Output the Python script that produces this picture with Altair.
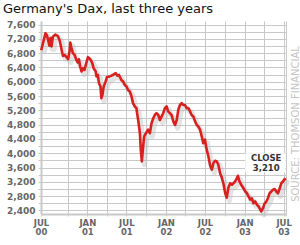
import altair as alt
import pandas as pd

title_text = "Germany's Dax, last three years"
source_text = "SOURCE: THOMSON FINANCIAL"
close_word = "CLOSE"
close_value = "3,210"

dates = [
    "2000-06-01", "2000-06-21", "2000-06-27", "2000-07-03", "2000-07-09", "2000-07-14",
    "2000-07-19", "2000-07-25", "2000-08-06", "2000-08-17", "2000-08-25", "2000-08-30",
    "2000-09-07", "2000-09-10", "2000-09-17", "2000-09-25", "2000-10-04", "2000-10-11",
    "2000-10-14", "2000-10-18", "2000-10-26", "2000-11-03", "2000-11-11", "2000-11-18",
    "2000-11-23", "2000-11-29", "2000-12-05", "2000-12-12", "2000-12-19", "2000-12-27",
    "2001-01-04", "2001-01-15", "2001-01-24", "2001-01-30", "2001-02-09", "2001-02-12",
    "2001-02-19", "2001-02-24", "2001-03-03", "2001-03-07", "2001-03-12", "2001-03-18",
    "2001-03-27", "2001-04-02", "2001-04-15", "2001-04-30", "2001-05-13", "2001-05-21",
    "2001-05-28", "2001-06-08", "2001-06-16", "2001-06-24", "2001-07-02", "2001-07-09",
    "2001-07-17", "2001-07-25", "2001-08-01", "2001-08-09", "2001-08-17", "2001-08-20",
    "2001-08-25", "2001-09-02", "2001-09-06", "2001-09-11", "2001-09-17", "2001-09-22",
    "2001-09-30", "2001-10-10", "2001-10-18", "2001-10-26", "2001-11-03", "2001-11-10",
    "2001-11-18", "2001-11-26", "2001-12-04", "2001-12-12", "2001-12-19", "2001-12-27",
    "2002-01-04", "2002-01-11", "2002-01-19", "2002-01-27", "2002-02-04", "2002-02-12",
    "2002-02-20", "2002-02-27", "2002-03-07", "2002-03-15", "2002-03-22", "2002-03-30",
    "2002-04-07", "2002-04-15", "2002-04-23", "2002-04-30", "2002-05-08", "2002-05-16",
    "2002-05-24", "2002-05-31", "2002-06-08", "2002-06-16", "2002-06-23", "2002-07-01",
    "2002-07-09", "2002-07-17", "2002-07-25", "2002-08-02", "2002-08-09", "2002-08-17",
    "2002-08-25", "2002-09-01", "2002-09-09", "2002-09-17", "2002-09-25", "2002-10-03",
    "2002-10-10", "2002-10-18", "2002-10-26", "2002-11-03", "2002-11-10", "2002-11-18",
    "2002-11-26", "2002-12-01", "2002-12-08", "2002-12-16", "2002-12-27", "2003-01-04",
    "2003-01-12", "2003-01-19", "2003-01-27", "2003-02-04", "2003-02-11", "2003-02-19",
    "2003-02-27", "2003-03-07", "2003-03-15", "2003-03-19", "2003-03-27", "2003-04-04",
    "2003-04-12", "2003-04-19", "2003-04-27", "2003-05-05", "2003-05-13", "2003-05-20",
    "2003-05-28", "2003-06-05", "2003-06-13", "2003-06-20", "2003-06-28", "2003-07-06",
    "2003-07-09",
]
values = [
    6880, 7360, 7310, 7170, 7010, 7220,
    6990, 7260, 7320, 7280, 7170, 7030,
    6800, 6720, 6750, 6700, 6630, 6890,
    7100, 6980, 6800, 6750, 6610, 6540,
    6630, 6420, 6290, 6380, 6330, 6520,
    6690, 6630, 6520, 6380, 6290, 6150,
    6190, 5960, 5870, 5540, 5630, 5870,
    6010, 6130, 6150, 6190, 6240, 6170,
    6190, 6050, 6010, 5910, 5870, 5770,
    5730, 5590, 5400, 5310, 5260, 5120,
    4930, 4560, 4100, 3770, 4190, 4470,
    4560, 4660, 4560, 4840, 4980, 5070,
    5120, 5070, 4930, 5030, 5120, 5260,
    5310, 5170, 5120, 5070, 4890, 4790,
    4930, 5210, 5350, 5400, 5350, 5350,
    5260, 5260, 5170, 5070, 5030, 4890,
    4790, 4750, 4660, 4470, 4280, 4380,
    4100, 3910, 3650, 3540, 3720, 3790,
    3770, 3680, 3440, 3320, 3140, 2880,
    2760, 3040, 3160, 3120, 3160, 3210,
    3300, 3370, 3210, 3120, 3020, 2930,
    2880, 2790, 2700, 2740, 2600, 2650,
    2560, 2510, 2420, 2370, 2460, 2600,
    2650, 2740, 2880, 2930, 2980, 3000,
    2930, 2880, 3020, 3160, 3210, 3280,
    3240,
]

y_ticks = [2400, 2600, 2800, 3000, 3200, 3400, 3600, 3800, 4000, 4200, 4400, 4600, 4800,
           5000, 5200, 5400, 5600, 5800, 6000, 6200, 6400, 6600, 6800, 7000, 7200, 7400, 7600]
x_ticks = ["2000-05-31", "2000-10-01", "2001-01-01", "2001-04-01", "2001-07-01", "2001-10-01",
           "2002-01-01", "2002-04-01", "2002-07-01", "2002-10-01", "2003-01-01", "2003-04-01",
           "2003-07-01", "2003-07-12"]
x_domain = ["2000-05-31", "2003-07-12"]
y_domain = [2300, 7700]

# annotation box and label anchor (data coordinates)
box_dates = ["2003-01-04", "2003-07-10"]
box_values = [4000, 3470]
label_date = "2003-04-11"
label_values = [3880, 3590]


def dt(s):
    y, m, d = map(int, s.split("-"))
    return alt.DateTime(year=y, month=m, date=d, utc=True)


df = pd.DataFrame({"date": dates, "value": values})

xscale = alt.Scale(type="utc", domain=[dt(d) for d in x_domain])
yscale = alt.Scale(domain=y_domain, nice=False, zero=False)

label_font = "DejaVu Sans"
axis_gray = "#c8c8c8"
label_gray = "#666666"

x_label_expr = (
    "utcmonth(datum.value) == 0 && utcdate(datum.value) == 1 ? ['JAN', utcFormat(datum.value, '%y')] : "
    "utcmonth(datum.value) == 6 && utcdate(datum.value) == 1 ? ['JUL', utcFormat(datum.value, '%y')] : "
    "utcmonth(datum.value) == 4 ? ['JUL', utcFormat(datum.value, '%y')] : ''"
)

x_axis = alt.Axis(
    values=[dt(d) for d in x_ticks], labelExpr=x_label_expr, title=None,
    grid=True, gridColor=axis_gray, gridWidth=1,
    domainColor=axis_gray, domainWidth=2, tickColor=axis_gray, tickSize=2,
    labelFont=label_font, labelFontWeight="bold", labelFontSize=8.5, labelColor=label_gray,
    labelAngle=0, labelPadding=2, labelLineHeight=9, labelFlush=False,
    labelOverlap=False, labelBound=False,
)
y_axis = alt.Axis(
    values=y_ticks, labelExpr="datum.value % 400 == 0 ? format(datum.value, ',') : ''",
    title=None, grid=True, gridColor=axis_gray, gridWidth=1,
    domainColor=axis_gray, domainWidth=2, tickColor=axis_gray, tickSize=3,
    labelFont=label_font, labelFontWeight="bold", labelFontSize=9, labelColor=label_gray,
    labelPadding=3, labelOverlap=False, labelBound=False,
)

base = alt.Chart(df)

shadow = base.transform_calculate(
    sdate="+toDate(datum.date) + 12 * 86400000",
    svalue="datum.value - 90",
).mark_line(color="#b8b8b8", strokeWidth=5, opacity=0.4, strokeJoin="round").encode(
    x=alt.X("sdate:T", scale=xscale, axis=x_axis),
    y=alt.Y("svalue:Q", scale=yscale, axis=y_axis),
)

line = base.mark_line(color="#d8201f", strokeWidth=2.6, strokeJoin="round").encode(
    x=alt.X("date:T", scale=xscale, axis=x_axis),
    y=alt.Y("value:Q", scale=yscale, axis=y_axis),
)

box_df = pd.DataFrame({"d1": [box_dates[0]], "d2": [box_dates[1]],
                       "v1": [box_values[0]], "v2": [box_values[1]]})
box = alt.Chart(box_df).mark_rect(color="white").encode(
    x=alt.X("d1:T", scale=xscale, axis=x_axis), x2="d2:T",
    y=alt.Y("v1:Q", scale=yscale, axis=y_axis), y2="v2:Q",
)

label_df = pd.DataFrame({"date": [label_date, label_date],
                         "value": label_values,
                         "text": [close_word, close_value]})
labels = alt.Chart(label_df).mark_text(
    font=label_font, fontWeight="bold", fontSize=8.5, color="#333333",
    align="center", baseline="middle",
).encode(
    x=alt.X("date:T", scale=xscale, axis=x_axis),
    y=alt.Y("value:Q", scale=yscale, axis=y_axis),
    text="text:N",
)

title = alt.Chart(pd.DataFrame({"t": [title_text]})).mark_text(
    font="DejaVu Sans", fontSize=13, color="#111111", align="left", baseline="alphabetic",
).encode(x=alt.value(-38), y=alt.value(-8), text="t:N")

source = alt.Chart(pd.DataFrame({"t": [source_text]})).mark_text(
    font="DejaVu Sans", fontSize=10, color="#c4c4c4", align="center", baseline="middle",
    angle=270,
).encode(x=alt.value(254.5), y=alt.value(103), text="t:N")

chart = alt.layer(shadow, line, box, labels, title, source).properties(
    width=245, height=193,
    autosize=alt.AutoSizeParams(type="none"),
    padding={"left": 41, "top": 21, "right": 14, "bottom": 31},
    background="white",
).configure_view(stroke=None)

chart.save("out.html", embed_options={"renderer": "svg", "actions": False})
